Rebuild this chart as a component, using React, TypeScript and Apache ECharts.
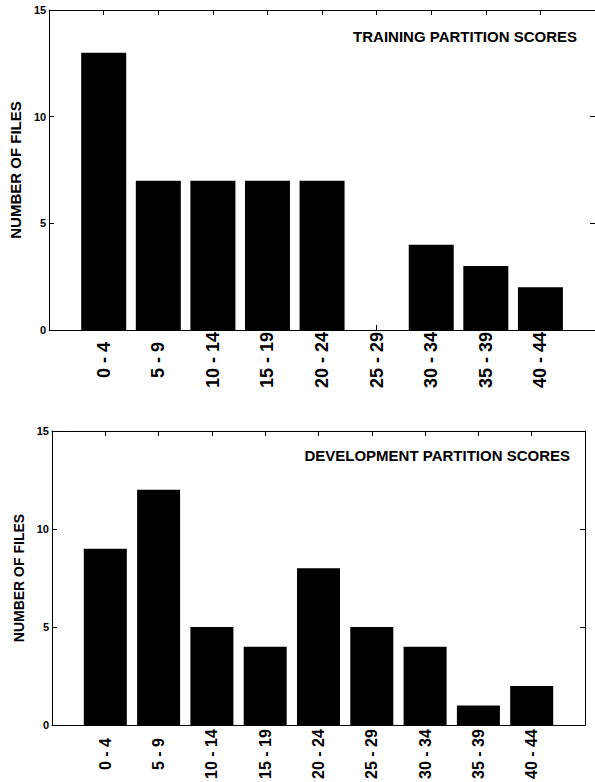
import React, { useEffect, useRef } from "react";
import * as echarts from "echarts";

const categories = ["0 - 4", "5 - 9", "10 - 14", "15 - 19", "20 - 24", "25 - 29", "30 - 34", "35 - 39", "40 - 44"];
const trainingCounts = [13, 7, 7, 7, 7, 0, 4, 3, 2];
const developmentCounts = [9, 12, 5, 4, 8, 5, 4, 1, 2];
const trainingTitle = "TRAINING PARTITION SCORES";
const developmentTitle = "DEVELOPMENT PARTITION SCORES";
const yAxisTitle = "NUMBER OF FILES";
const yMin = 0;
const yMax = 15;
const yStep = 5;

const FONT = "'Liberation Sans', Arial, sans-serif";

function xAxesFor(gridIndex: number, fontSize: number, margin: number) {
  const common = {
    type: "value",
    gridIndex,
    min: 0,
    max: categories.length + 1,
    interval: 1,
    splitLine: { show: false },
    axisLine: { show: true, onZero: false, lineStyle: { color: "#000", width: 1 } },
    axisTick: { show: true, inside: true, length: 5, lineStyle: { color: "#000", width: 1 } },
  };
  return [
    {
      ...common,
      position: "bottom",
      axisLabel: {
        show: true,
        rotate: 90,
        align: "center",
        verticalAlign: "middle",
        margin,
        fontSize,
        fontWeight: "bold",
        fontFamily: FONT,
        color: "#000",
        formatter: (v: number) => categories[v - 1] ?? "",
      },
    },
    { ...common, position: "top", axisLabel: { show: false } },
  ];
}

function yAxesFor(gridIndex: number, nameSize: number) {
  const common = {
    type: "value",
    gridIndex,
    min: yMin,
    max: yMax,
    interval: yStep,
    splitLine: { show: false },
    axisLine: { show: true, onZero: false, lineStyle: { color: "#000", width: 1 } },
    axisTick: { show: true, inside: true, length: 5, lineStyle: { color: "#000", width: 1 } },
  };
  return [
    {
      ...common,
      position: "left",
      name: yAxisTitle,
      nameLocation: "middle",
      nameGap: 20,
      nameTextStyle: { fontSize: nameSize, fontWeight: "bold", fontFamily: FONT, color: "#000" },
      axisLabel: { show: true, margin: 3, fontSize: 11, fontWeight: "bold", fontFamily: FONT, color: "#000" },
    },
    { ...common, position: "right", axisLabel: { show: false } },
  ];
}

export default function App() {
  const ref = useRef<HTMLDivElement>(null);
  useEffect(() => {
    if (!ref.current) return;
    const chart = echarts.init(ref.current, undefined, { renderer: "svg" });
    chart.setOption({
      animation: false,
      backgroundColor: "#fff",
      title: [
        {
          text: trainingTitle,
          right: 18,
          top: 29,
          textStyle: { fontSize: 15, fontWeight: "bold", fontFamily: FONT, color: "#000" },
          padding: 0,
        },
        {
          text: developmentTitle,
          right: 25,
          top: 448,
          textStyle: { fontSize: 15, fontWeight: "bold", fontFamily: FONT, color: "#000" },
          padding: 0,
        },
      ],
      grid: [
        { left: 42, top: 10, width: 554, height: 320 },
        { left: 52, top: 431, width: 533, height: 298 },
      ],
      xAxis: [...xAxesFor(0, 18, 30), ...xAxesFor(1, 16, 29)],
      yAxis: [...yAxesFor(0, 15), ...yAxesFor(1, 14)],
      series: [
        {
          type: "bar",
          xAxisIndex: 0,
          yAxisIndex: 0,
          barWidth: 45,
          itemStyle: { color: "#000" },
          data: categories.map((c, i) => [i + 1, trainingCounts[i]]),
        },
        {
          type: "bar",
          xAxisIndex: 2,
          yAxisIndex: 2,
          barWidth: 43,
          itemStyle: { color: "#000" },
          data: categories.map((c, i) => [i + 1, developmentCounts[i]]),
        },
      ],
    });
    return () => chart.dispose();
  }, []);
  return (
    <div
      ref={ref}
      style={{ position: "fixed", left: 0, top: 0, width: 595, height: 782, background: "#fff" }}
    />
  );
}
